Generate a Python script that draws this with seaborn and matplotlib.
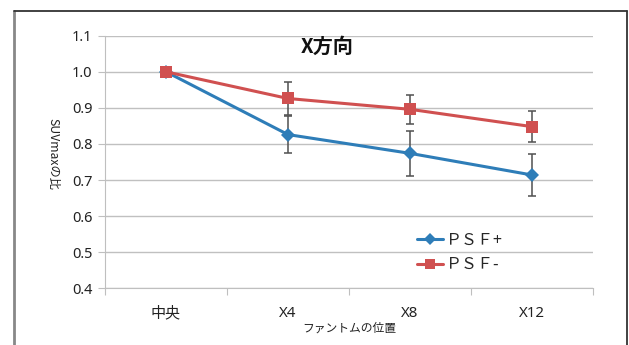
import matplotlib
matplotlib.use("Agg")
import matplotlib.pyplot as plt
from matplotlib.lines import Line2D
import numpy as np
import pandas as pd
import seaborn as sns

# Data
positions = ["中央", "X4", "X8", "X12"]
psf_plus = [1.0, 0.826, 0.774, 0.714]
psf_plus_err = [0.0, 0.051, 0.063, 0.057]
psf_minus = [1.0, 0.926, 0.896, 0.848]
psf_minus_err = [0.0, 0.046, 0.041, 0.042]
series_names = ["ＰＳＦ+", "ＰＳＦ-"]
y_ticks = [0.4, 0.5, 0.6, 0.7, 0.8, 0.9, 1.0, 1.1]

BLUE = "#2E7DB8"
RED = "#D05050"

sns.set_theme(style="white")
plt.rcParams["font.family"] = ["Noto Sans CJK JP", "DejaVu Sans"]

df = pd.DataFrame({
    "位置": positions * 2,
    "比": psf_plus + psf_minus,
    "系列": [series_names[0]] * 4 + [series_names[1]] * 4,
})

W, H = 629, 345
fig = plt.figure(figsize=(W / 100, H / 100), dpi=100)
ax = fig.add_axes([105 / W, 1 - 288.3 / H, (593 - 105) / W, (288.3 - 35.7) / H])

sns.lineplot(data=df, x="位置", y="比", hue="系列", style="系列",
             markers=["D", "s"], dashes=False, palette=[BLUE, RED],
             markersize=7, linewidth=2.2, markeredgewidth=0, ax=ax,
             legend=False, sort=False, zorder=3)
# Enlarge the square marker a little relative to the diamond
ax.lines[1].set_markersize(8.5)

xpos = np.arange(len(positions))
for vals, errs in ((psf_plus, psf_plus_err), (psf_minus, psf_minus_err)):
    ax.errorbar(xpos, vals, yerr=errs, fmt="none", ecolor="#505050",
                elinewidth=1.1, capsize=3.2, capthick=1.1, zorder=2)

tick_font = ["Noto Sans", "Noto Sans CJK JP"]
ax.set_xlim(-0.5, len(positions) - 0.5)
ax.set_ylim(0.4, 1.1)
ax.set_yticks(y_ticks)
ax.set_yticklabels([f"{v:.1f}" for v in y_ticks], family=tick_font)
ax.set_xticks(xpos)
ax.set_xticklabels(positions, family=tick_font)
ax.set_xticks(np.arange(-0.5, len(positions), 1.0), minor=True)
ax.tick_params(axis="x", which="major", length=0, pad=13, labelsize=10.8,
               labelcolor="#222222")
ax.tick_params(axis="x", which="minor", length=5, width=0.8, color="#BFBFBF",
               direction="out")
ax.tick_params(axis="y", which="major", length=5, width=0.8, color="#BFBFBF",
               direction="out", labelsize=10.5, labelcolor="#222222", pad=4)
ax.xaxis.set_ticks_position("bottom")
ax.yaxis.set_ticks_position("left")

ax.grid(axis="y", color="#C0C0C0", linewidth=1.0)
ax.set_axisbelow(True)
for side in ("top", "right"):
    ax.spines[side].set_visible(False)
ax.spines["left"].set_color("#BFBFBF")
ax.spines["bottom"].set_color("#BFBFBF")
ax.spines["left"].set_linewidth(0.8)
ax.spines["bottom"].set_linewidth(0.8)

ax.set_xlabel("ファントムの位置", fontsize=8.5, labelpad=0, color="#222222")
ax.set_ylabel("")
fig.text(53 / W, 1 - 154 / H, "SUVmaxの比", rotation=270, fontsize=8.8,
         ha="center", va="center", color="#222222")

fig.text(327 / W, 1 - 46 / H, "X方向", fontsize=14.5, fontweight="bold",
         ha="center", va="center", color="#111111")

handles = [
    Line2D([], [], color=BLUE, marker="D", markersize=6, linewidth=2.2,
           markeredgewidth=0),
    Line2D([], [], color=RED, marker="s", markersize=7.5, linewidth=2.2,
           markeredgewidth=0),
]
fig.legend(handles, series_names, loc="upper left",
           bbox_to_anchor=(409 / W, 1 - 224 / H), frameon=False,
           fontsize=11.5, handlelength=1.6, handletextpad=0.2,
           labelspacing=0.45, borderpad=0)

# Chart-area frame
fig.add_artist(Line2D([14 / W, 14 / W], [0, 1 - 11 / H], color="#888888",
                      linewidth=2, transform=fig.transFigure))
fig.add_artist(Line2D([14 / W, 627 / W], [1 - 11 / H, 1 - 11 / H],
                      color="#333333", linewidth=1.3,
                      transform=fig.transFigure))
fig.add_artist(Line2D([627 / W, 627 / W], [0, 1 - 11 / H], color="#333333",
                      linewidth=1.3, transform=fig.transFigure))

fig.savefig("out.png", dpi=100, facecolor="white")
